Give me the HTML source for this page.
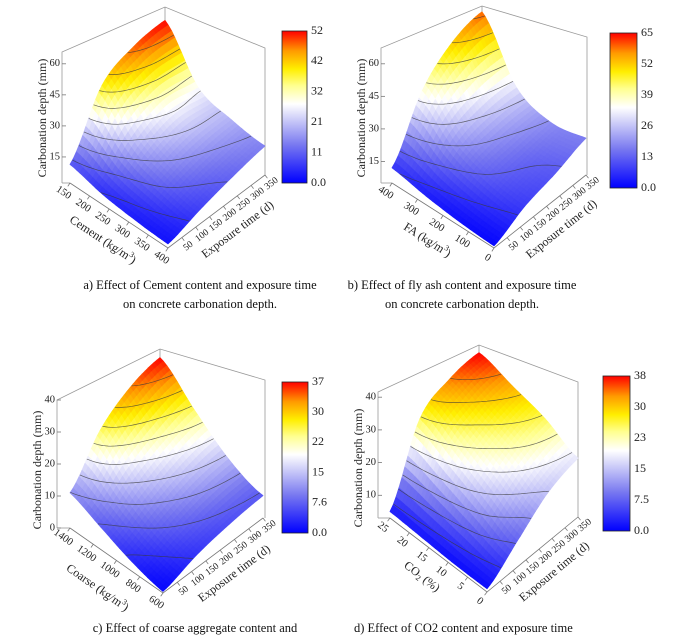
<!DOCTYPE html>
<html><head><meta charset="utf-8">
<style>
html,body{margin:0;padding:0;background:#fff;}
svg{display:block;font-family:"Liberation Serif",serif;}
</style></head>
<body>
<svg id="fig" width="679" height="638" viewBox="0 0 679 638" xmlns="http://www.w3.org/2000/svg">
<defs>
<linearGradient id="cmap" x1="0" y1="1" x2="0" y2="0">
<stop offset="0" stop-color="#0000ff"/>
<stop offset="0.25" stop-color="#7878f0"/>
<stop offset="0.45" stop-color="#dcdcfa"/>
<stop offset="0.52" stop-color="#ffffff"/>
<stop offset="0.64" stop-color="#ffff90"/>
<stop offset="0.75" stop-color="#ffee00"/>
<stop offset="0.87" stop-color="#ff9a00"/>
<stop offset="1" stop-color="#ff0000"/>
</linearGradient>
</defs>
<g font-size="12.5" fill="#111">
<text x="200" y="289" text-anchor="middle">a) Effect of Cement content and exposure time</text>
<text x="200" y="308" text-anchor="middle">on concrete carbonation depth.</text>
<text x="462" y="289" text-anchor="middle">b) Effect of fly ash content and exposure time</text>
<text x="462" y="308" text-anchor="middle">on concrete carbonation depth.</text>
<text x="195" y="632" text-anchor="middle">c) Effect of coarse aggregate content and</text>
<text x="354" y="632">d) Effect of CO2 content and exposure time</text>
</g>
</svg>
<script>
// ---- data (rows: exposure time index v=0..3 ; columns: x-variable index u=0..3) ----
const zA = [[9,5,3,2],[38,20,12,7],[48,28,17,11],[52,27,19,14]];
const zB = [[7,4,2,1],[36,20,12,8],[52,27,16,12],[60,30,19,17]];
const zC = [[11,7,3,0.5],[25,15,8,4],[33,21,12,6],[37,25,14,7]];
const zD = [[2,1.5,1,1],[26,20,14,8],[34,28,22,15],[38,32,26,18]];
const uTicksA = ["150","200","250","300","350","400"];
const uTicksB = ["400","300","200","100","0"];
const uTicksC = ["1400","1200","1000","800","600"];
const uTicksD = ["25","20","15","10","5","0"];
const timeTicks = [50,100,150,200,250,300,350];
const timeMax = 350;
const zTicksA = [15,30,45,60];
const zTicksB = [15,30,45,60];
const zTicksC = [0,10,20,30,40];
const zTicksD = [10,20,30,40];
const cbTicksA = ["0.0","11","21","32","42","52"];
const cbTicksB = ["0.0","13","26","39","52","65"];
const cbTicksC = ["0.0","7.6","15","22","30","37"];
const cbTicksD = ["0.0","7.5","15","23","30","38"];
const cbMaxA = 52, cbMaxB = 65, cbMaxC = 37, cbMaxD = 38;

const NS = "http://www.w3.org/2000/svg";
const svg = document.getElementById('fig');
function mk(tag, attrs, parent){const e=document.createElementNS(NS,tag);for(const k in attrs)e.setAttribute(k,attrs[k]);(parent||svg).appendChild(e);return e;}

const stops=[[0,[0,0,255]],[0.25,[120,120,240]],[0.45,[220,220,250]],[0.52,[255,255,255]],[0.64,[255,255,144]],[0.75,[255,238,0]],[0.87,[255,154,0]],[1,[255,0,0]]];
function cmap(t){t=Math.max(0,Math.min(1,t));for(let i=1;i<stops.length;i++){if(t<=stops[i][0]){const a=stops[i-1],b=stops[i];const f=(t-a[0])/(b[0]-a[0]);const c=a[1].map((x,k)=>Math.round(x+(b[1][k]-x)*f));return `rgb(${c[0]},${c[1]},${c[2]})`;}}return 'rgb(255,0,0)';}
function cr(p0,p1,p2,p3,t){return 0.5*((2*p1)+(-p0+p2)*t+(2*p0-5*p1+4*p2-p3)*t*t+(-p0+3*p1-3*p2+p3)*t*t*t);}
function interp1(a,t){const n=a.length-1;let x=t*n;let i=Math.min(Math.floor(x),n-1);const f=x-i;return cr(a[Math.max(i-1,0)],a[i],a[i+1],a[Math.min(i+2,n)],f);}
function surf(grid,u,v){const col=grid.map(r=>interp1(r,u));return interp1(col,v);}

function panel(cfg){
  const g=mk('g',{});
  
  
  const {L,F,R,B,s,Lt,Bt,Rt,vx}=cfg;
  function P(u,v,z){const x=(1-u)*(1-v)*L[0]+u*(1-v)*F[0]+u*v*R[0]+(1-u)*v*B[0];const y=(1-u)*(1-v)*L[1]+u*(1-v)*F[1]+u*v*R[1]+(1-u)*v*B[1];return [x,y-z*s];}
  const fr=mk('g',{stroke:'#999','stroke-width':'0.8',fill:'none'},g);
  
  
  mk('polyline',{points:`${vx},${L[1]} ${Lt[0]},${Lt[1]} ${Bt[0]},${Bt[1]} ${Rt[0]},${Rt[1]} ${Rt[0]},${R[1]}`},fr);
  mk('line',{x1:Bt[0],y1:Bt[1],x2:B[0],y2:B[1]},fr);
  mk('line',{x1:vx,y1:L[1],x2:L[0],y2:L[1]},fr);
  const N=30;const vals=[];
  for(let j=0;j<=N;j++){vals[j]=[];for(let i=0;i<=N;i++)vals[j][i]=surf(cfg.grid,i/N,j/N);}
  const sg=mk('g',{},g);
  
  
  const quads=[];
  for(let j=0;j<N;j++)for(let i=0;i<N;i++)quads.push([i,j,(i-j)]);
  quads.sort((a,b)=>a[2]-b[2]);
  for(const [i,j] of quads){
    const u0=i/N,u1=(i+1)/N,v0=j/N,v1=(j+1)/N;
    const p=[P(u0,v0,vals[j][i]),P(u1,v0,vals[j][i+1]),P(u1,v1,vals[j+1][i+1]),P(u0,v1,vals[j+1][i])];
    const zm=(vals[j][i]+vals[j][i+1]+vals[j+1][i+1]+vals[j+1][i])/4;
    const c=cmap(zm/cfg.cbMax);
    const q=mk('polygon',{points:p.map(a=>a[0].toFixed(1)+','+a[1].toFixed(1)).join(' '),fill:c,stroke:c,'stroke-width':'0.8','stroke-linejoin':'round'},sg);
    
    
  }
  const cg=mk('g',{stroke:'#3a3a3a','stroke-width':'0.7',fill:'none','stroke-opacity':'0.75'},g);
  
  
  const step=cfg.cbMax/10;
  for(let lev=step;lev<cfg.cbMax;lev+=step){
    let d='';
    for(let j=0;j<N;j++)for(let i=0;i<N;i++){
      const c=[[i,j],[i+1,j],[i+1,j+1],[i,j+1]];const pts=[];
      for(let k=0;k<4;k++){const a=c[k],b=c[(k+1)%4];const za=vals[a[1]][a[0]],zb=vals[b[1]][b[0]];
        if((za<lev)!==(zb<lev)){const f=(lev-za)/(zb-za);const u=(a[0]+(b[0]-a[0])*f)/N,v=(a[1]+(b[1]-a[1])*f)/N;pts.push(P(u,v,lev));}}
      if(pts.length>=2){d+=`M${pts[0][0].toFixed(1)},${pts[0][1].toFixed(1)}L${pts[1][0].toFixed(1)},${pts[1][1].toFixed(1)}`;}
      if(pts.length===4){d+=`M${pts[2][0].toFixed(1)},${pts[2][1].toFixed(1)}L${pts[3][0].toFixed(1)},${pts[3][1].toFixed(1)}`;}
    }
    const pl=mk('path',{d},cg);
    
    
  }
  const ax=mk('g',{stroke:'#777','stroke-width':'0.8',fill:'none'},g);
  
  
  mk('polyline',{points:`${L[0]},${L[1]} ${F[0]},${F[1]} ${R[0]},${R[1]}`},ax);
  const tg=mk('g',{'font-size':'10.5',fill:'#222'},g);
  const ud=[F[0]-L[0],F[1]-L[1]];const ul=Math.hypot(ud[0],ud[1]);const un=[-ud[1]/ul,ud[0]/ul];
  const uang=Math.atan2(ud[1],ud[0])*180/Math.PI;
  const nU=cfg.uTicks.length-1;
  cfg.uTicks.forEach((lab,k)=>{const u=k/nU;const p=[L[0]+ud[0]*u,L[1]+ud[1]*u];
    mk('line',{x1:p[0],y1:p[1],x2:p[0]+un[0]*4,y2:p[1]+un[1]*4},ax);
    const x=p[0]+un[0]*12,y=p[1]+un[1]*12;
    const t=mk('text',{x:x,y:y,'text-anchor':'middle','dominant-baseline':'middle',transform:`rotate(${uang} ${x} ${y})`},tg);t.textContent=lab;
    
    });
  {const m=[L[0]+ud[0]*0.5+un[0]*cfg.uTitleOff,L[1]+ud[1]*0.5+un[1]*cfg.uTitleOff];
   const t=mk('text',{x:m[0],y:m[1],'font-size':'12','text-anchor':'middle','dominant-baseline':'middle',transform:`rotate(${uang} ${m[0]} ${m[1]})`},tg);
   t.innerHTML=cfg.uTitle;
   
   }
  const vd=[R[0]-F[0],R[1]-F[1]];const vl=Math.hypot(vd[0],vd[1]);const vn=[-vd[1]/vl,vd[0]/vl];
  const vang=Math.atan2(vd[1],vd[0])*180/Math.PI;
  timeTicks.forEach(tv=>{const v=tv/timeMax;const p=[F[0]+vd[0]*v,F[1]+vd[1]*v];
    mk('line',{x1:p[0],y1:p[1],x2:p[0]+vn[0]*4,y2:p[1]+vn[1]*4},ax);
    const x=p[0]+vn[0]*11,y=p[1]+vn[1]*11;
    const t=mk('text',{x:x,y:y,'font-size':'9.5','text-anchor':'middle','dominant-baseline':'middle',transform:`rotate(${vang} ${x} ${y})`},tg);t.textContent=tv;
    
    });
  {const m=[F[0]+vd[0]*0.55+vn[0]*28,F[1]+vd[1]*0.55+vn[1]*28];
   const t=mk('text',{x:m[0],y:m[1],'font-size':'12','text-anchor':'middle','dominant-baseline':'middle',transform:`rotate(${vang} ${m[0]} ${m[1]})`},tg);
   t.textContent='Exposure time (d)';
   
   }
  cfg.zTicks.forEach(zv=>{const y=cfg.z0y-zv*s;
    mk('line',{x1:vx,y1:y,x2:vx+4,y2:y},ax);
    const t=mk('text',{x:vx-2,y:y,'text-anchor':'end','dominant-baseline':'middle'},tg);t.textContent=zv;
    
    });
  {const zx=vx-19;
   const t=mk('text',{x:zx,y:cfg.zty,'font-size':'12','text-anchor':'middle','dominant-baseline':'middle',transform:`rotate(-90 ${zx} ${cfg.zty})`},tg);
   t.textContent='Carbonation depth (mm)';
   
   }
  const cb=cfg.cb;
  const r=mk('rect',{x:cb[0],y:cb[1],width:cb[2],height:cb[3],fill:'url(#cmap)',stroke:'#222','stroke-width':'0.8'},g);
  
  
  const nc=cfg.cbTicks.length-1;
  cfg.cbTicks.forEach((lab,k)=>{const y=cb[1]+cb[3]-k/nc*cb[3];
    const t=mk('text',{x:cb[0]+cb[2]+4,y:y,'font-size':'12','dominant-baseline':'middle',fill:'#222'},g);t.textContent=lab;
    
    });
}

panel({name:'panel-a',grid:zA,cbMax:cbMaxA,L:[70,183],F:[168,248],R:[265,175],B:[165,128],s:2.07,Lt:[62,52],Bt:[165,7],Rt:[265,48],vx:62,z0y:188,zTicks:zTicksA,uTicks:uTicksA,uTitle:'Cement (kg/m<tspan font-size="8" dy="-4">3</tspan><tspan dy="4">)</tspan>',uTitleOff:30,zty:118,cb:[282,31,25,152],cbTicks:cbTicksA});
panel({name:'panel-b',grid:zB,cbMax:cbMaxB,L:[392,183],F:[494,248],R:[586,175],B:[482,142],s:2.17,Lt:[381,48],Bt:[482,6],Rt:[587,37],vx:381,z0y:194,zTicks:zTicksB,uTicks:uTicksB,uTitle:'FA (kg/m<tspan font-size="8" dy="-4">3</tspan><tspan dy="4">)</tspan>',uTitleOff:30,zty:118,cb:[610,33,27,155],cbTicks:cbTicksB});
panel({name:'panel-c',grid:zC,cbMax:cbMaxC,L:[70,528],F:[163,593],R:[263,518],B:[160,476],s:3.2,Lt:[57,400],Bt:[160,349],Rt:[265,380],vx:57,z0y:528,zTicks:zTicksC,uTicks:uTicksC,uTitle:'Coarse (kg/m<tspan font-size="8" dy="-4">3</tspan><tspan dy="4">)</tspan>',uTitleOff:34,zty:470,cb:[282,382,26,151],cbTicks:cbTicksC});
panel({name:'panel-d',grid:zD,cbMax:cbMaxD,L:[390,518],F:[487,592],R:[578,517],B:[479,477],s:3.27,Lt:[378,392],Bt:[479,345],Rt:[578,382],vx:378,z0y:528,zTicks:zTicksD,uTicks:uTicksD,uTitle:'CO<tspan font-size="8" dy="3">2</tspan><tspan dy="-3"> (%)</tspan>',uTitleOff:28,zty:468,cb:[603,376,27,155],cbTicks:cbTicksD});
</script>
</body></html>
